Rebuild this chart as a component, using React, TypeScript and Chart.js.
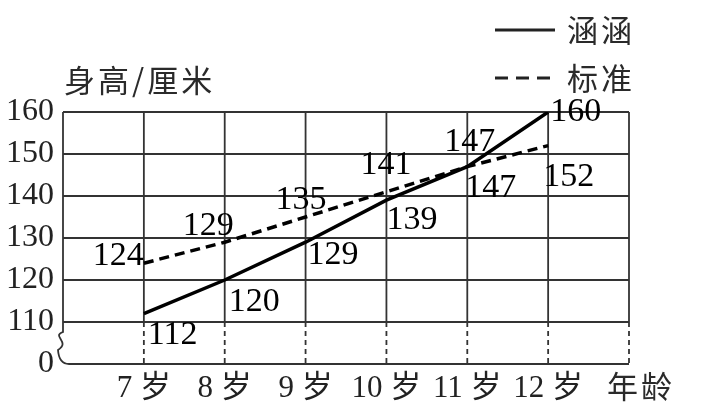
import React, { useEffect, useRef } from 'react';
import { Chart, registerables } from 'chart.js';

Chart.register(...registerables);

// ---- data ----
const ages = [7, 8, 9, 10, 11, 12];
const hanhanHeights = [112, 120, 129, 139, 147, 160];
const standardHeights = [124, 129, 135, 141, 147, 152];
const seriesNames = ['涵涵', '标准'];
const yTitle = '身高/厘米';
const xTitle = '年龄';
const ageUnit = '岁';
const yBreakValue = 100; // shown as "0" below the axis break
const yBreakLabel = '0';

// label placement (offset of text baseline-left from the point)
const hanhanLabelOffsets = [[4, 30], [4, 31], [2, 22], [0, 29], [-23, -16], [2, 9]];
const standardLabelOffsets = [[-51, 2], [-42, -7], [-30, -8], [-26, -18], [-2, 30], [-5, 40]];

const SERIF = '"Liberation Serif", "DejaVu Serif", serif';
const CJK = '"Noto Sans CJK SC", sans-serif';
const MIXED = '"Liberation Serif", "Noto Sans CJK SC", serif';

const gridPlugin = {
  id: 'customGrid',
  beforeDatasetsDraw(chart: any) {
    const { ctx, chartArea, scales } = chart;
    const xs = scales.x;
    const ys = scales.y;
    const L = chartArea.left;
    const R = chartArea.right;
    const yTop = ys.getPixelForValue(160);
    const y110 = ys.getPixelForValue(110);
    const y0 = ys.getPixelForValue(yBreakValue);
    ctx.save();
    ctx.strokeStyle = '#333';
    ctx.lineWidth = 1.8;
    // horizontal lines
    for (let v = 110; v <= 160; v += 10) {
      const y = ys.getPixelForValue(v);
      ctx.beginPath();
      ctx.moveTo(L, y);
      ctx.lineTo(R, y);
      ctx.stroke();
    }
    // vertical lines
    for (let a = 7; a <= 13; a++) {
      const x = xs.getPixelForValue(a);
      ctx.setLineDash([]);
      ctx.beginPath();
      ctx.moveTo(x, yTop);
      ctx.lineTo(x, y110);
      ctx.stroke();
      ctx.setLineDash([5, 4]);
      ctx.beginPath();
      ctx.moveTo(x, y110);
      ctx.lineTo(x, y0);
      ctx.stroke();
    }
    ctx.setLineDash([]);
    // left border with break
    ctx.beginPath();
    ctx.moveTo(L, yTop);
    ctx.lineTo(L, y110 + 10);
    ctx.bezierCurveTo(L - 12, y110 + 14, L + 8, y110 + 20, L - 5, y110 + 28);
    ctx.quadraticCurveTo(L - 4, y0, L + 6, y0);
    ctx.lineTo(R, y0);
    ctx.stroke();
    ctx.restore();
  },
  afterDatasetsDraw(chart: any) {
    const { ctx } = chart;
    const offsets = [hanhanLabelOffsets, standardLabelOffsets];
    ctx.save();
    ctx.fillStyle = '#000';
    ctx.font = `34px ${SERIF}`;
    ctx.textAlign = 'left';
    ctx.textBaseline = 'alphabetic';
    chart.data.datasets.forEach((ds: any, di: number) => {
      const meta = chart.getDatasetMeta(di);
      meta.data.forEach((pt: any, i: number) => {
        const [dx, dy] = offsets[di][i];
        ctx.fillText(String(ds.data[i].y), pt.x + dx, pt.y + dy);
      });
    });
    // titles
    ctx.fillStyle = '#2a2a2a';
    ctx.font = `31px ${CJK}`;
    ctx.textBaseline = 'middle';
    (ctx as any).letterSpacing = '3px';
    ctx.fillText(yTitle, 64, 80);
    ctx.fillText(xTitle, 607, 386);
    // legend
    ctx.fillText(seriesNames[0], 567, 30);
    ctx.fillText(seriesNames[1], 567, 78);
    (ctx as any).letterSpacing = '0px';
    ctx.strokeStyle = '#222';
    ctx.lineWidth = 3;
    ctx.beginPath();
    ctx.moveTo(495, 30);
    ctx.lineTo(555, 30);
    ctx.stroke();
    ctx.setLineDash([13, 8]);
    ctx.beginPath();
    ctx.moveTo(495, 78);
    ctx.lineTo(555, 78);
    ctx.stroke();
    ctx.restore();
  },
};

export default function App() {
  const canvasRef = useRef<HTMLCanvasElement | null>(null);

  useEffect(() => {
    if (!canvasRef.current) return;
    const chart = new Chart(canvasRef.current, {
      type: 'line',
      data: {
        datasets: [
          {
            label: seriesNames[0],
            data: ages.map((a, i) => ({ x: a, y: hanhanHeights[i] })),
            borderColor: '#000',
            borderWidth: 3.5,
            pointRadius: 0,
            fill: false,
          },
          {
            label: seriesNames[1],
            data: ages.map((a, i) => ({ x: a, y: standardHeights[i] })),
            borderColor: '#000',
            borderWidth: 3.5,
            borderDash: [10, 6],
            pointRadius: 0,
            fill: false,
          },
        ],
      },
      options: {
        animation: false,
        responsive: true,
        maintainAspectRatio: false,
        layout: { padding: { top: 112, right: 74, left: 0, bottom: 0 } },
        plugins: { legend: { display: false }, tooltip: { enabled: false } },
        scales: {
          x: {
            type: 'linear',
            min: 6,
            max: 13,
            grid: { display: false, drawTicks: false },
            border: { display: false },
            ticks: {
              stepSize: 1,
              padding: 6,
              color: '#222',
              font: { family: MIXED, size: 31 },
              callback: (v: any) => (ages.includes(Number(v)) ? `${v} ${ageUnit}` : ''),
            },
            afterFit: (s: any) => {
              s.height = 48;
            },
          },
          y: {
            min: yBreakValue,
            max: 160,
            grid: { display: false, drawTicks: false },
            border: { display: false },
            ticks: {
              stepSize: 10,
              padding: 9,
              color: '#222',
              font: { family: SERIF, size: 32 },
              callback: (v: any) => (Number(v) === yBreakValue ? yBreakLabel : String(v)),
            },
            afterFit: (s: any) => {
              s.width = 63;
            },
          },
        },
      },
      plugins: [gridPlugin],
    });
    return () => chart.destroy();
  }, []);

  return (
    <div style={{ position: 'fixed', left: 0, top: 0, width: 703, height: 412, background: '#fff' }}>
      <canvas ref={canvasRef} />
    </div>
  );
}
